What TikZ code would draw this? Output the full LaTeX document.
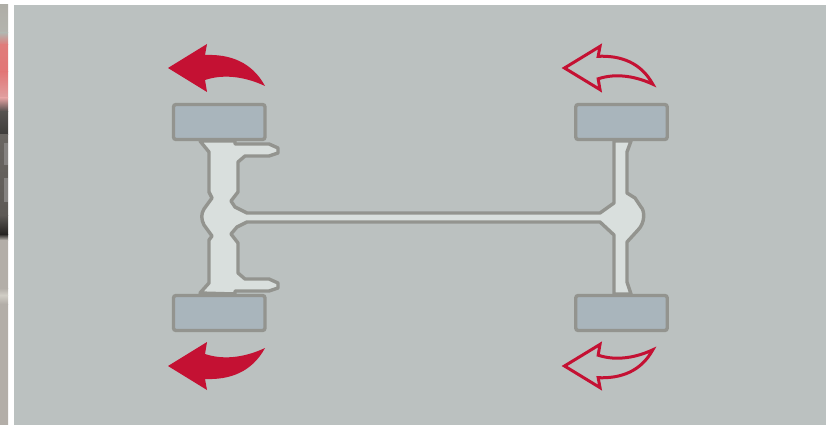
\documentclass[tikz,border=0pt]{standalone}
\usepackage{tikz}
\definecolor{panelgray}{HTML}{BBC1C0}
\definecolor{tiregray}{HTML}{A9B5BC}
\definecolor{axlefill}{HTML}{D9DFDD}
\definecolor{linegray}{HTML}{93948F}
\definecolor{arrowred}{HTML}{C41133}
\definecolor{stripstreak}{HTML}{858280}
\tikzset{
  tirebox/.style={draw=linegray, fill=tiregray, line width=3.4pt, rounded corners=2.5pt,
    minimum width=91.5pt, minimum height=35pt, inner sep=0pt, outer sep=0pt},
  axlebody/.style={draw=linegray, fill=axlefill, line width=3.4pt, line join=round},
  turnfull/.style={fill=arrowred},
  turnhollow/.style={draw=arrowred, fill=none, line width=3pt, line join=miter},
  pics/turnarrow/.style={code={
    \path[#1] (0,0) -- (39,-24) -- (37,-13)
      .. controls (62,-14) and (84,-6) .. (97,18)
      .. controls (80,10) and (58,5) .. (37,12)
      -- (39,24) -- cycle;
  }}
}
\begin{document}
\begin{tikzpicture}[x=1pt, y=-1pt]
  \useasboundingbox (0,0) rectangle (833,425);
  % photo strip at the left edge
  \fill[white] (0,0) rectangle (833,425);
  \fill[panelgray] (14,5) rectangle (826,425);
  \foreach \ya/\yb/\hexa/\hexb in {
    5/33/AFAEA7/B4B4AE,
    33/45/B4B4AE/E07C7A,
    45/72/E07C7A/E27676,
    72/98/E27676/E0A0A0,
    98/112/E0A0A0/4E4C4A,
    112/135/55524F/3E3C3A,
    135/215/6A6662/5E5A56,
    215/234/5E5A56/262422,
    234/240/262422/B3AEA8,
    240/288/B3AEA8/B3AEA8,
    288/295/B3AEA8/D0CDC5,
    295/304/D0CDC5/B3AEA8,
    304/425/B3AEA8/B3AEA8
  }{
    \definecolor{stripa}{HTML}{\hexa}
    \definecolor{stripb}{HTML}{\hexb}
    \shade[top color=stripa, bottom color=stripb] (0,\ya) rectangle (8,\yb);
  }
  \fill[stripstreak] (4,143) rectangle (8,165);
  \fill[stripstreak] (4,178) rectangle (8,202);

  % axles, left one with its arms
  \draw[axlebody] (200,141) -- (209,152) -- (209,192) -- (212,198) -- (204,209)
    .. controls (201,214) and (201,219) .. (204,225)
    -- (212,236) -- (209,240) -- (209,283) -- (200,293) -- (235,294) -- (235,291)
    -- (269,291) -- (278,288) -- (278,283) -- (269,279) -- (245,279) -- (238,273)
    -- (238,243) -- (231,234) -- (237,227) -- (247,222) -- (600,222)
    -- (614,235) -- (614,294) -- (631,294) -- (627,282) -- (627,242) -- (638,230)
    .. controls (645,223) and (645,211) .. (641,207)
    -- (635,198) -- (627,193) -- (627,152) -- (631,141) -- (614,141) -- (614,203)
    -- (600,213) -- (247,213) -- (235,207) -- (231,201) -- (238,192) -- (238,162)
    -- (245,156) -- (269,156) -- (278,153) -- (278,148) -- (269,144) -- (235,144)
    -- (235,141) -- cycle;

  % tires
  \foreach \name/\x/\y in {
    tireFL/219.25/122,
    tireFR/621.5/122,
    tireRL/219.25/313,
    tireRR/621.5/313
  }{
    \node[tirebox] (\name) at (\x,\y) {};
  }

  % turning arrows
  \pic at (168,68) {turnarrow=turnfull};
  \pic[yscale=-1] at (168,366) {turnarrow=turnfull};
  \pic[xscale=0.91, yscale=0.9] at (564.5,68) {turnarrow=turnhollow};
  \pic[xscale=0.91, yscale=-0.9] at (564.5,366) {turnarrow=turnhollow};
\end{tikzpicture}
\end{document}
